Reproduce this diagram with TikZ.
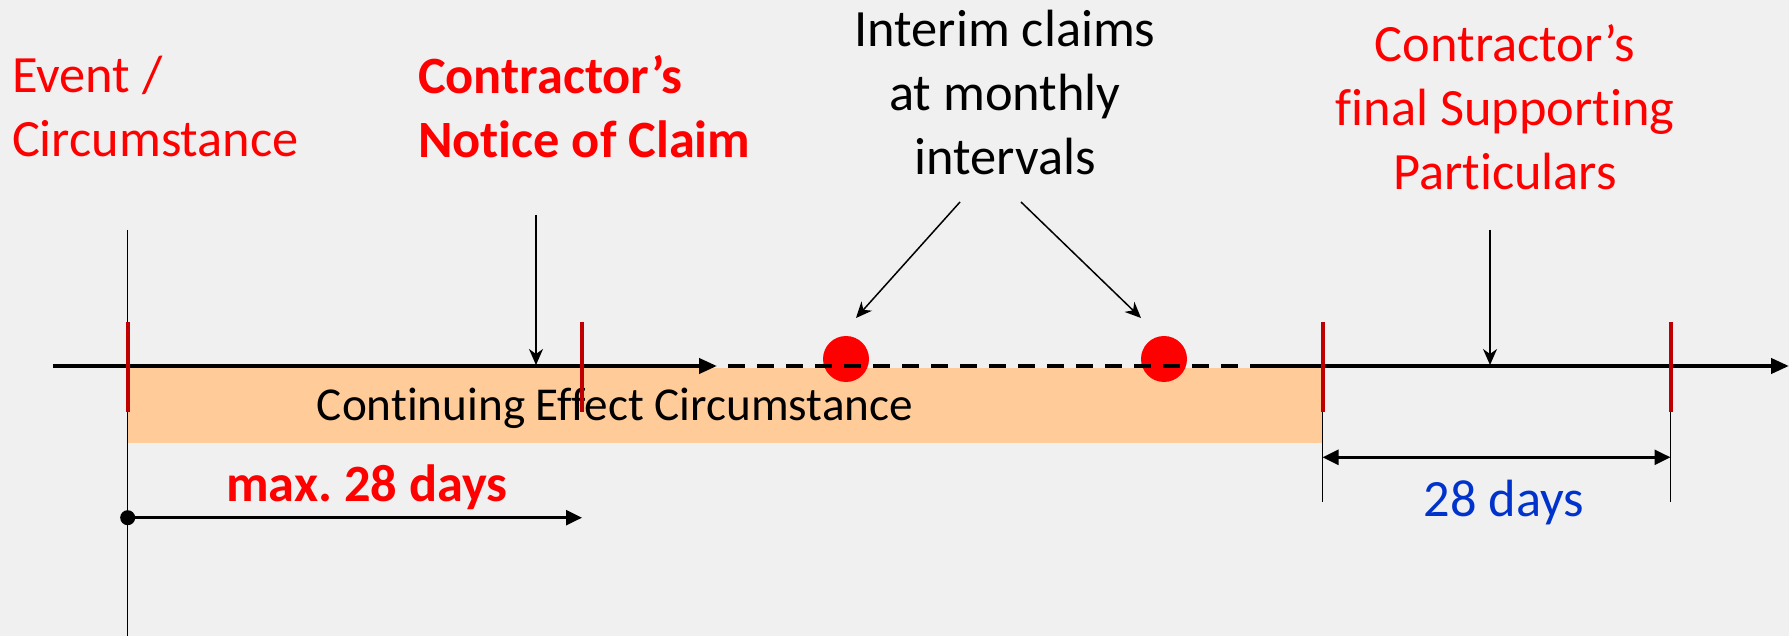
\documentclass[tikz,border=0pt]{standalone}
\usepackage{fontspec}
\setmainfont{Carlito}[Ligatures=NoCommon]
\usetikzlibrary{arrows.meta}
\definecolor{bg}{HTML}{F0F0F0}
\definecolor{bandorange}{HTML}{FFCC99}
\definecolor{tickred}{HTML}{C00000}
\definecolor{labelred}{HTML}{FF0000}
\definecolor{daysblue}{HTML}{0033CC}
\frenchspacing

\begin{document}
\begin{tikzpicture}[x=0.5pt,y=-0.5pt,
  txt/.style={inner sep=0pt, outer sep=0pt, font=\fontsize{26.2pt}{32pt}\selectfont},
  redtxt/.style={txt, text=labelred},
  boldred/.style={txt, text=labelred, font=\fontsize{26.2pt}{32pt}\selectfont\bfseries},
  thin/.style={line width=0.75pt, draw=black},
  pointer/.style={thin, -{Stealth[length=8pt,width=7pt,inset=2.5pt]}},
  axis/.style={line width=2pt, draw=black},
  axistip/.style={-{Triangle[length=9pt,width=7.5pt]}},
  dimtip/.style={-{Triangle[length=8pt,width=7.5pt]}},
  dimtips/.style={{Triangle[length=8pt,width=7.5pt]}-{Triangle[length=8pt,width=7.5pt]}},
  tickmark/.style={line width=2pt, draw=tickred},
  dimline/.style={line width=1.25pt, draw=black},
  claimdot/.style={circle, fill=red, minimum size=23pt, inner sep=0pt},
  startdot/.style={circle, fill=black, minimum size=7.5pt, inner sep=0pt},
]
\useasboundingbox (0,0) rectangle (1789,636);
\fill[bg] (0,0) rectangle (1789,636);

% key points on the time axis
\coordinate (a0) at (53,366);
\coordinate (a1) at (717,366);
\coordinate (a2) at (728,366);
\coordinate (a3) at (1257,366);
\coordinate (a4) at (1789,366);

% tick positions
\coordinate (t1top) at (127.6,322);  \coordinate (t1bot) at (127.6,412);
\coordinate (t2top) at (581.6,322);  \coordinate (t2bot) at (581.6,412);
\coordinate (t3top) at (1322.5,322); \coordinate (t3bot) at (1322.5,412);
\coordinate (t4top) at (1670.5,322); \coordinate (t4bot) at (1670.5,412);

% event line
\coordinate (evtop) at (127.6,230);
\coordinate (evbot) at (127.6,636);
\draw[thin] (evtop) -- (evbot);

% continuing effect band
\fill[bandorange] (127.6,368) rectangle (1322.5,443);
\node[txt, font=\fontsize{23.6pt}{28pt}\selectfont, anchor=base] (cec) at (615,420) {Continuing Effect Circumstance};

% interim claim dots
\node[claimdot] (d1) at (846,359) {};
\node[claimdot] (d2) at (1164,359) {};

% time axis
\draw[axis, axistip] (a0) -- (a1);
\draw[axis, dash pattern=on 8.5pt off 6pt] (a2) -- (a3);
\draw[axis, axistip] (a3) -- (a4);

% ticks
\draw[tickmark] (t1top) -- (t1bot);
\draw[tickmark] (t2top) -- (t2bot);
\draw[tickmark] (t3top) -- (t3bot);
\draw[tickmark] (t4top) -- (t4bot);

% extension lines below the last two ticks
\coordinate (t3ext) at (1322.5,502);
\coordinate (t4ext) at (1670.5,502);
\draw[thin] (t3bot) -- (t3ext);
\draw[thin] (t4bot) -- (t4ext);

% labels (base anchor = baseline of the last line)
\node[redtxt, anchor=base west, align=left] (ev) at (12,156.7) {Event /\\Circumstance};
\node[boldred, anchor=base west, align=left] (noc) at (418,157.3) {Contractor’s\\Notice of Claim};
\node[txt, anchor=base, align=center] (ic) at (1005,175) {Interim claims\\at monthly\\intervals};
\node[redtxt, anchor=base, align=center] (fsp) at (1505,190) {Contractor’s\\final Supporting\\Particulars};

% pointers
\coordinate (nocs) at (536,215); \coordinate (noce) at (536,365);
\draw[pointer] (nocs) -- (noce);
\coordinate (ic1s) at (960,202); \coordinate (ic1e) at (856,318);
\coordinate (ic2s) at (1021,202); \coordinate (ic2e) at (1141,318);
\draw[pointer] (ic1s) -- (ic1e);
\draw[pointer] (ic2s) -- (ic2e);
\coordinate (fsps) at (1490,230); \coordinate (fspe) at (1490,365);
\draw[pointer] (fsps) -- (fspe);

% notice period
\node[startdot] (m0) at (127.7,517.7) {};
\coordinate (m1) at (582,517.7);
\draw[dimline, dimtip] (m0.center) -- (m1);
\node[boldred, anchor=base] (maxd) at (367,501.7) {max. 28 days};

% supporting particulars period
\coordinate (p0) at (1322.5,457.3);
\coordinate (p1) at (1670.5,457.3);
\draw[dimline, dimtips] (p0) -- (p1);
\node[txt, text=daysblue, anchor=base] (d28) at (1504,516.7) {28 days};
\end{tikzpicture}
\end{document}
